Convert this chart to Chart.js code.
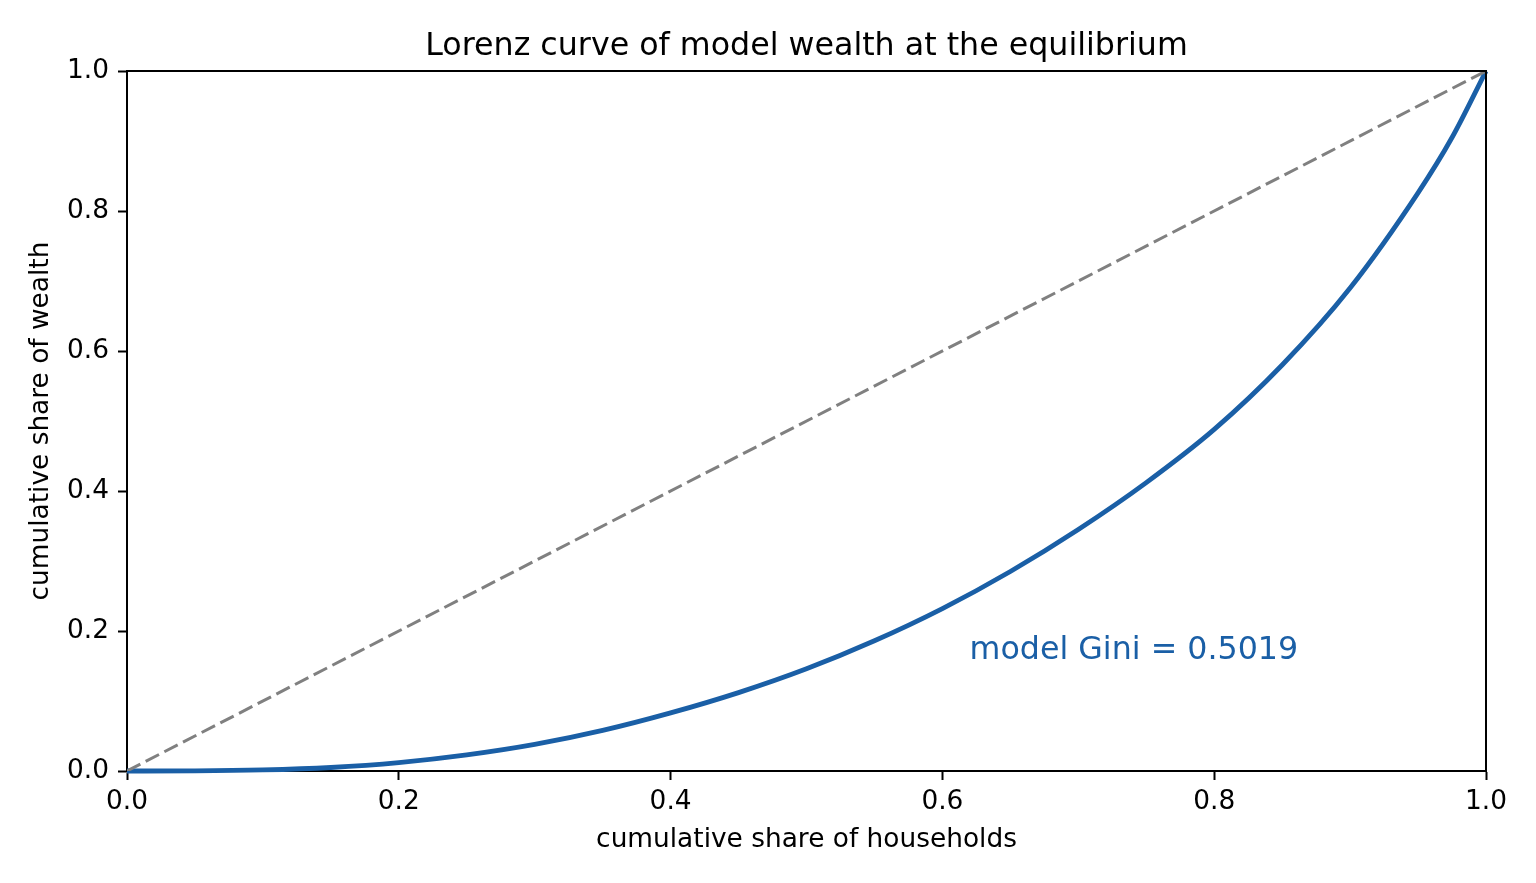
<!DOCTYPE html>
<html>
<head>
<meta charset="utf-8">
<script src="https://cdn.jsdelivr.net/npm/chart.js@4.4.0/dist/chart.umd.min.js"></script>
<style>
  html, body { margin: 0; padding: 0; background: #ffffff; }
  #wrap { width: 1536px; height: 883px; }
</style>
</head>
<body>
<div id="wrap"><canvas id="c" width="1536" height="883"></canvas></div>
<script>
// ---- data ----
const householdShare = [0, 0.05, 0.1, 0.15, 0.2, 0.25, 0.3, 0.35, 0.4, 0.45, 0.5, 0.55, 0.6, 0.65, 0.7, 0.75, 0.8, 0.85, 0.9, 0.95, 0.975, 1.0];
const wealthShare    = [0, 0.0002, 0.0015, 0.005, 0.012, 0.023, 0.038, 0.058, 0.083, 0.112, 0.146, 0.186, 0.232, 0.285, 0.345, 0.412, 0.488, 0.580, 0.690, 0.826, 0.905, 1.0];
const equalityX = [0, 1];
const equalityY = [0, 1];
const xTicks = [0, 0.2, 0.4, 0.6, 0.8, 1.0];
const yTicks = [0, 0.2, 0.4, 0.6, 0.8, 1.0];
const titleText = 'Lorenz curve of model wealth at the equilibrium';
const xLabel = 'cumulative share of households';
const yLabel = 'cumulative share of wealth';
const giniLabel = 'model Gini = 0.5019';
const giniPos = [0.62, 0.16];

const FONT = 'DejaVu Sans';
const BLUE = '#1a5fa6';

const toPts = (xs, ys) => xs.map((x, i) => ({ x: x, y: ys[i] }));

const framePlugin = {
  id: 'frame',
  afterDraw(chart) {
    const { ctx, chartArea: a, scales } = chart;
    ctx.save();
    ctx.strokeStyle = '#000';
    ctx.lineWidth = 2;
    ctx.beginPath();
    ctx.moveTo(a.left, a.top);
    ctx.lineTo(a.right, a.top);
    ctx.lineTo(a.right, a.bottom);
    ctx.stroke();
    // annotation
    ctx.fillStyle = BLUE;
    ctx.font = '31.7px "' + FONT + '"';
    ctx.textAlign = 'left';
    ctx.textBaseline = 'alphabetic';
    ctx.fillText(giniLabel, scales.x.getPixelForValue(giniPos[0]), scales.y.getPixelForValue(giniPos[1]));
    ctx.restore();
  }
};

const tickCommon = {
  color: '#000',
  font: { family: FONT, size: 26.4 },
};

new Chart(document.getElementById('c'), {
  type: 'scatter',
  data: {
    datasets: [
      {
        label: 'equality',
        data: toPts(equalityX, equalityY),
        showLine: true,
        borderColor: '#808080',
        borderWidth: 3,
        borderDash: [15, 6],
        pointRadius: 0,
        fill: false,
      },
      {
        label: 'Lorenz',
        data: toPts(householdShare, wealthShare),
        showLine: true,
        borderColor: BLUE,
        borderWidth: 4.8,
        pointRadius: 0,
        cubicInterpolationMode: 'monotone',
        fill: false,
        clip: false,
      }
    ]
  },
  options: {
    responsive: false,
    animation: false,
    devicePixelRatio: 1,
    layout: { padding: { left: 0, right: 50, top: 0, bottom: 0 } },
    plugins: {
      legend: { display: false },
      tooltip: { enabled: false },
      title: {
        display: true,
        fullSize: false,
        text: titleText,
        color: '#000',
        font: { family: FONT, size: 31.7, weight: 'normal' },
        padding: { top: 28, bottom: 5 }
      }
    },
    scales: {
      x: {
        type: 'linear',
        min: 0, max: 1,
        afterFit: s => { s.height = 112; },
        afterBuildTicks: s => { s.ticks = xTicks.map(v => ({ value: v })); },
        ticks: Object.assign({}, tickCommon, { padding: 6, maxRotation: 0, callback: v => v.toFixed(1) }),
        grid: { drawOnChartArea: false, drawTicks: true, tickLength: 9, tickWidth: 2, tickColor: '#000' },
        border: { display: true, color: '#000', width: 2 },
        title: { display: true, text: xLabel, color: '#000', font: { family: FONT, size: 26.4 }, padding: { top: 0, bottom: 27 } }
      },
      y: {
        type: 'linear',
        min: 0, max: 1,
        afterFit: s => { s.width = 127; },
        afterBuildTicks: s => { s.ticks = yTicks.map(v => ({ value: v })); },
        ticks: Object.assign({}, tickCommon, { padding: 9, callback: v => v.toFixed(1) }),
        grid: { drawOnChartArea: false, drawTicks: true, tickLength: 9, tickWidth: 2, tickColor: '#000' },
        border: { display: true, color: '#000', width: 2 },
        title: { display: true, text: yLabel, color: '#000', font: { family: FONT, size: 26.4 }, padding: { top: 25, bottom: 0 } }
      }
    }
  },
  plugins: [framePlugin]
});
</script>
</body>
</html>
